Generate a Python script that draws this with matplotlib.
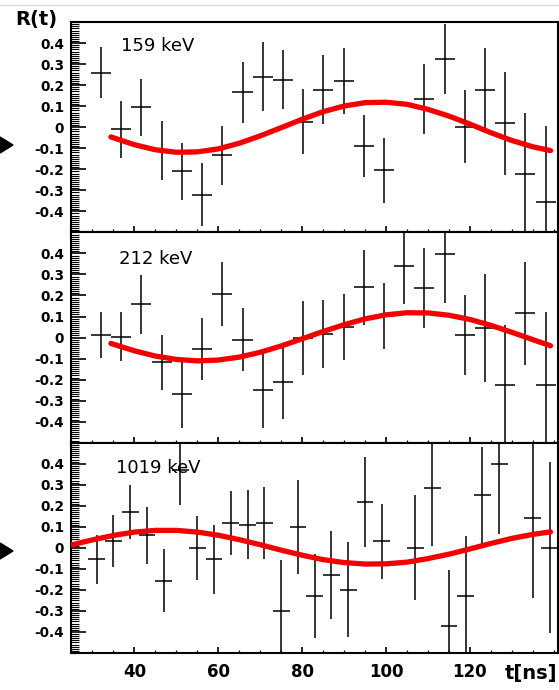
import matplotlib

matplotlib.use("Agg")
import matplotlib.pyplot as plt
from matplotlib.lines import Line2D
from matplotlib.patches import Polygon
from matplotlib.ticker import FixedLocator, FuncFormatter, MultipleLocator

# time bins [ns] and R(t) values with errors
t_159 = [32.0, 36.8, 41.6, 46.5, 51.3, 56.1, 60.9, 65.8, 70.6, 75.4, 80.2,
         85.0, 89.9, 94.7, 99.5, 109.1, 114.0, 118.8, 123.6, 128.4, 133.2, 138.1]
r_159 = [0.26, -0.01, 0.095, -0.11, -0.21, -0.32, -0.134, 0.166, 0.24, 0.226, 0.026,
         0.179, 0.221, -0.09, -0.204, 0.135, 0.324, 0.002, 0.179, 0.018, -0.22, -0.354]
e_159 = [0.12, 0.135, 0.135, 0.14, 0.135, 0.15, 0.14, 0.145, 0.165, 0.14, 0.155,
         0.163, 0.158, 0.146, 0.154, 0.166, 0.166, 0.174, 0.2, 0.243, 0.29, 0.36]

t_212 = [32.0, 36.8, 41.6, 46.5, 51.3, 56.1, 60.9, 65.8, 70.6, 75.4, 80.2, 85.0,
         89.9, 94.7, 99.5, 104.3, 109.1, 114.0, 118.8, 123.6, 128.4, 133.2, 138.1]
r_212 = [0.012, 0.004, 0.159, -0.118, -0.268, -0.054, 0.206, -0.01, -0.249, -0.212,
         -0.002, 0.017, 0.048, 0.238, 0.103, 0.34, 0.235, 0.396, 0.012, 0.045,
         -0.225, 0.115, -0.225]
e_212 = [0.11, 0.117, 0.14, 0.13, 0.16, 0.148, 0.153, 0.15, 0.18, 0.177, 0.178,
         0.16, 0.157, 0.177, 0.158, 0.18, 0.19, 0.23, 0.19, 0.256, 0.284, 0.245, 0.347]

t_1019 = [31, 35, 39, 43, 47, 51, 55, 59, 63, 67, 71, 75, 79, 83, 87, 91, 95, 99,
          107, 111, 115, 119, 123, 127, 135, 139]
r_1019 = [-0.055, 0.032, 0.17, 0.059, -0.157, 0.372, 0.0, -0.055, 0.119, 0.111,
          0.119, -0.3, 0.1, -0.228, -0.13, -0.2, 0.219, 0.032, 0.001, 0.285,
          -0.373, -0.228, 0.25, 0.4, 0.143, 0.0]
e_1019 = [0.117, 0.124, 0.128, 0.137, 0.15, 0.17, 0.152, 0.163, 0.153, 0.166,
          0.17, 0.24, 0.225, 0.2, 0.21, 0.226, 0.214, 0.178, 0.25, 0.276, 0.266,
          0.284, 0.23, 0.336, 0.38, 0.406]

# fitted curves, sampled off the figure
fit_t_159 = [34.4, 40, 45, 50, 55, 60, 65, 70, 75, 80, 85, 90, 95, 100, 105, 110,
             115, 120, 125, 130, 135, 139.2]
fit_r_159 = [-0.046, -0.083, -0.107, -0.119, -0.117, -0.103, -0.076, -0.041, -0.002,
             0.038, 0.074, 0.101, 0.117, 0.119, 0.109, 0.085, 0.053, 0.015, -0.026,
             -0.063, -0.093, -0.111]

fit_t_212 = [34.4, 40, 45, 50, 55, 60, 65, 70, 75, 80, 85, 90, 95, 100, 105, 110,
             115, 120, 125, 130, 135, 139.2]
fit_r_212 = [-0.028, -0.063, -0.088, -0.104, -0.111, -0.107, -0.093, -0.070, -0.040,
             -0.006, 0.029, 0.061, 0.089, 0.108, 0.118, 0.117, 0.106, 0.086, 0.058,
             0.025, -0.010, -0.039]

fit_t_1019 = [25, 30, 35, 40, 45, 50, 55, 60, 65, 70, 75, 80, 85, 90, 95, 100, 105,
              110, 115, 120, 125, 130, 135, 139.2]
fit_r_1019 = [0.014, 0.038, 0.059, 0.075, 0.083, 0.083, 0.075, 0.060, 0.039, 0.015,
              -0.011, -0.035, -0.056, -0.070, -0.077, -0.076, -0.068, -0.051, -0.030,
              -0.005, 0.021, 0.045, 0.064, 0.076]

labels = ["159 keV", "212 keV", "1019 keV"]
label_t = [36.9, 36.4, 35.6]
label_r = [0.385, 0.375, 0.38]
x_ticks = [40, 60, 80, 100, 120]
y_ticks = [-0.4, -0.3, -0.2, -0.1, 0.0, 0.1, 0.2, 0.3, 0.4]

panels = [
    (t_159, r_159, e_159, fit_t_159, fit_r_159, 2.4),
    (t_212, r_212, e_212, fit_t_212, fit_r_212, 2.4),
    (t_1019, r_1019, e_1019, fit_t_1019, fit_r_1019, 2.0),
]


def fmt_r(v, pos):
    v = round(v, 1)
    return "0" if v == 0 else f"{v:g}"


W, H = 559, 690
fig = plt.figure(figsize=(W / 100, H / 100), dpi=100)

left, width = 71 / W, 487 / W
ph = 210.3 / H
bottom0 = 1 - 653 / H

for i, (t, r, e, ft, fr, xh) in enumerate(panels):
    ax = fig.add_axes([left, bottom0 + (2 - i) * ph, width, ph])
    ax.errorbar(t, r, yerr=e, xerr=xh, fmt="none", ecolor="black",
                elinewidth=1.1, capsize=0, zorder=2)
    ax.plot(ft, fr, color="#f50000", lw=3.8, solid_capstyle="round", zorder=3)
    ax.set_xlim(24.9, 141)
    ax.set_ylim(-0.5, 0.5)
    ax.text(label_t[i], label_r[i], labels[i], fontsize=13, ha="left", va="center")

    ax.yaxis.set_major_locator(FixedLocator(y_ticks))
    ax.yaxis.set_minor_locator(MultipleLocator(0.01))
    ax.yaxis.set_major_formatter(FuncFormatter(fmt_r))
    ax.xaxis.set_major_locator(FixedLocator(x_ticks))
    ax.xaxis.set_minor_locator(MultipleLocator(5))

    ax.tick_params(axis="y", which="major", direction="in", length=11, width=1.2,
                   labelsize=9.8, pad=5)
    ax.tick_params(axis="y", which="minor", direction="in", length=5.5, width=0.8)
    ax.tick_params(axis="x", which="major", direction="in", length=4.5, width=1.2,
                   labelsize=12, pad=7)
    ax.tick_params(axis="x", which="minor", direction="in", length=2.2, width=0.9)
    for lab in ax.get_yticklabels() + ax.get_xticklabels():
        lab.set_fontweight("bold")
    if i < 2:
        ax.tick_params(axis="x", which="both", labelbottom=False)
    for sp in ax.spines.values():
        sp.set_linewidth(1.5)

fig.text(36 / W, 1 - 19 / H, "R(t)", fontsize=14, fontweight="bold",
         ha="center", va="center")
fig.text(557 / W, 1 - 674 / H, "t[ns]", fontsize=14, fontweight="bold",
         ha="right", va="center")

# slide markers on the left
for yc in (145, 551):
    tri = Polygon([(0, 1 - (yc - 8) / H), (13 / W, 1 - yc / H), (0, 1 - (yc + 8) / H)],
                  closed=True, color="black", transform=fig.transFigure)
    fig.add_artist(tri)
fig.add_artist(Line2D([0, 1], [1 - 5 / H, 1 - 5 / H], color="#dddddd", lw=1,
                      transform=fig.transFigure))

fig.savefig("out.png", dpi=100)
